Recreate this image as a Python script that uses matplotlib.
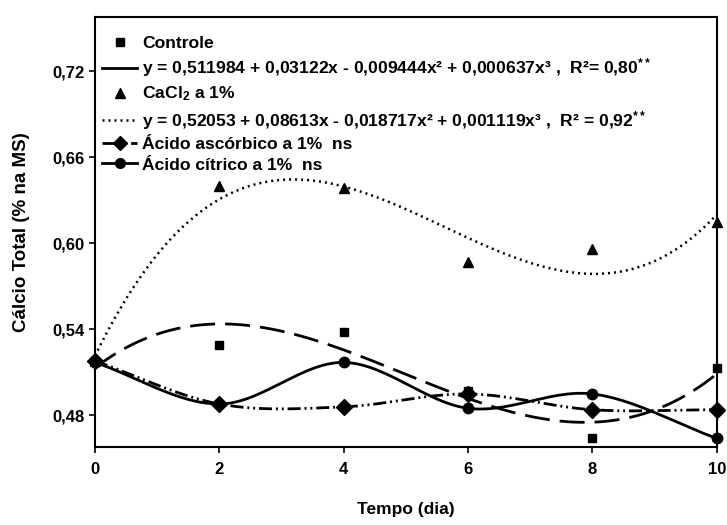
import matplotlib
matplotlib.use('Agg')
import matplotlib.pyplot as plt
import numpy as np
from matplotlib.lines import Line2D

plt.rcParams['font.family'] = ['Liberation Sans', 'DejaVu Sans']
plt.rcParams['font.weight'] = 'bold'
plt.rcParams['mathtext.default'] = 'regular'

# Data
dias = [0, 2, 4, 6, 8, 10]
controle = [0.518, 0.529, 0.538, 0.497, 0.464, 0.513]
cacl2 = [0.518, 0.640, 0.639, 0.587, 0.596, 0.615]
ascorbico = [0.518, 0.488, 0.486, 0.495, 0.484, 0.484]
citrico = [0.517, 0.488, 0.517, 0.485, 0.495, 0.464]

yticks = [0.48, 0.54, 0.60, 0.66, 0.72]
xticks = [0, 2, 4, 6, 8, 10]

lbl_controle = 'Controle'
lbl_eq_controle = ('y = 0,511984 + 0,03122x - 0,009444x² + 0,000637x³ ,  '
                   'R²= 0,80$^{**}$')
lbl_cacl2 = 'CaCl$_2$ a 1%'
lbl_eq_cacl2 = ('y = 0,52053 + 0,08613x - 0,018717x² + 0,001119x³ ,  '
                'R² = 0,92$^{**}$')
lbl_ascorbico = 'Ácido ascórbico a 1%  ns'
lbl_citrico = 'Ácido cítrico a 1%  ns'

DASH = (9, 3.6)
DOTS = (0.8, 1.6)
DASHDOTDOT = (4.7, 1.4, 0.7, 1.4, 0.7, 1.4)


# smooth line through the points (like the spreadsheet "smoothed line")
def smooth(x, y, n=30):
    x = np.asarray(x, float)
    y = np.asarray(y, float)
    px = np.concatenate([[2 * x[0] - x[1]], x, [2 * x[-1] - x[-2]]])
    py = np.concatenate([[2 * y[0] - y[1]], y, [2 * y[-1] - y[-2]]])
    xs, ys = [], []
    for i in range(1, len(px) - 2):
        t = np.linspace(0, 1, n)
        for arr, out in ((px, xs), (py, ys)):
            p0, p1, p2, p3 = arr[i - 1], arr[i], arr[i + 1], arr[i + 2]
            out.extend(0.5 * (2 * p1 + (-p0 + p2) * t
                              + (2 * p0 - 5 * p1 + 4 * p2 - p3) * t ** 2
                              + (-p0 + 3 * p1 - 3 * p2 + p3) * t ** 3))
    return xs, ys


fig = plt.figure(figsize=(7.27, 5.25), dpi=100)
ax = fig.add_axes([0.1307, 0.1486, 0.8553, 0.819])

xx = np.linspace(0, 10, 200)

# Controle: points + cubic trend
c_fit = np.polyfit(dias, controle, 3)
ax.plot(xx, np.polyval(c_fit, xx), color='black', lw=2, dashes=DASH)
ax.plot(dias, controle, 's', color='black', ms=6, zorder=5, clip_on=False)

# CaCl2: points + cubic trend
k_fit = np.polyfit(dias, cacl2, 3)
ax.plot(xx, np.polyval(k_fit, xx), color='black', lw=1.8, dashes=DOTS)
ax.plot(dias, cacl2, '^', color='black', ms=7.5, zorder=5, clip_on=False)

# Acido ascorbico
sx, sy = smooth(dias, ascorbico)
ax.plot(sx, sy, color='black', lw=2, dashes=DASHDOTDOT)
ax.plot(dias, ascorbico, 'D', color='black', ms=8, zorder=5, clip_on=False)

# Acido citrico
sx, sy = smooth(dias, citrico)
ax.plot(sx, sy, color='black', lw=2)
ax.plot(dias, citrico, 'o', color='black', ms=7.5, zorder=5, clip_on=False)

ax.set_xlim(0, 10)
ax.set_ylim(0.458, 0.758)
ax.set_xticks(xticks)
ax.set_yticks(yticks)
ax.set_yticklabels([f'{v:.2f}'.replace('.', ',') for v in yticks])
ax.tick_params(direction='out', length=4, width=1.2, labelsize=12)
ax.tick_params(axis='x', pad=7)
for s in ax.spines.values():
    s.set_linewidth(1.5)

ax.set_xlabel('Tempo (dia)', fontsize=12.5, fontweight='bold', labelpad=18)
ax.set_ylabel('Cálcio Total (% na MS)', fontsize=13.5, fontweight='bold', labelpad=16)

handles = [
    Line2D([], [], color='black', marker='s', ls='none', ms=6),
    Line2D([], [], color='black', lw=2),
    Line2D([], [], color='black', marker='^', ls='none', ms=7),
    Line2D([], [], color='black', lw=1.8, dashes=DOTS),
    Line2D([], [], color='black', lw=2, marker='D', ms=7, dashes=DASHDOTDOT),
    Line2D([], [], color='black', lw=2, marker='o', ms=7),
]
labels = [lbl_controle, lbl_eq_controle, lbl_cacl2, lbl_eq_cacl2,
          lbl_ascorbico, lbl_citrico]
ax.legend(handles, labels, loc='upper left', bbox_to_anchor=(0.0, 0.972),
          frameon=False, handlelength=2.0, handletextpad=0.3,
          labelspacing=0.3, borderaxespad=0,
          prop={'size': 12.6, 'weight': 'bold'})

fig.savefig('out.png', dpi=100)
